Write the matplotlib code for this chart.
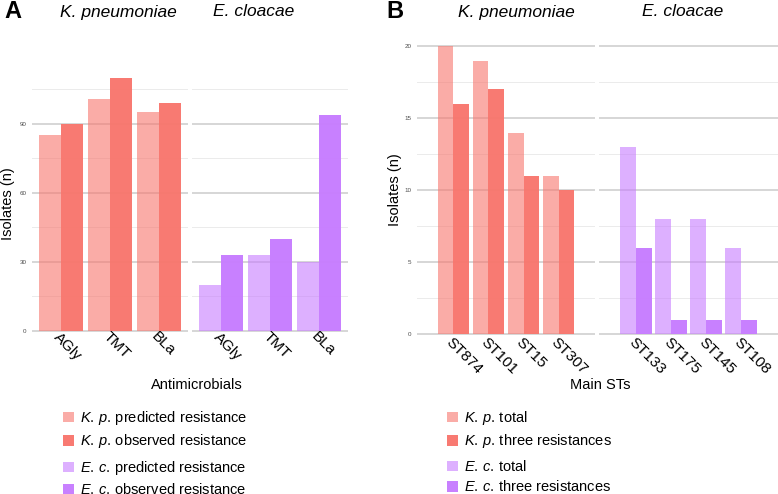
import numpy as np
import matplotlib
matplotlib.use("Agg")
import matplotlib.pyplot as plt
from matplotlib.patches import Patch

plt.rcParams["font.family"] = ["Liberation Sans", "DejaVu Sans"]
plt.rcParams["mathtext.fontset"] = "custom"
plt.rcParams["mathtext.it"] = "Liberation Sans:italic"
plt.rcParams["mathtext.rm"] = "Liberation Sans"

# panel A data
antimicrobials = ["AGly", "TMT", "BLa"]
kp_predicted = [85, 101, 95]
kp_observed = [90, 110, 99]
ec_predicted = [20, 33, 30]
ec_observed = [33, 40, 94]

# panel B data
kp_sts = ["ST874", "ST101", "ST15", "ST307"]
kp_total = [20, 19, 14, 11]
kp_three = [16, 17, 11, 10]
ec_sts = ["ST133", "ST175", "ST145", "ST108"]
ec_total = [13, 8, 8, 6]
ec_three = [6, 1, 1, 1]

red = "#F8766D"
purple = "#C77CFF"
W, H = 778, 494

fig = plt.figure(figsize=(W / 100, H / 100), dpi=100)


def px_axes(x0, y0, x1, y1):
    # rectangle given in pixels from the top-left corner
    return fig.add_axes([x0 / W, 1 - y1 / H, (x1 - x0) / W, (y1 - y0) / H])


def facet(ax, labels, light, dark, color, ylim, major, minor, xmargin, show_y):
    x = np.arange(len(labels))
    ax.set_ylim(*ylim)
    ax.set_xlim(-xmargin, len(labels) - 1 + xmargin)
    for v in major:
        ax.axhline(v, color="#cccccc", lw=1.1, zorder=0)
    for v in minor:
        ax.axhline(v, color="#ebebeb", lw=0.7, zorder=0)
    ax.bar(x - 0.225, light, width=0.45, color=color, alpha=0.6, lw=0, zorder=2)
    ax.bar(x + 0.225, dark, width=0.45, color=color, alpha=0.97, lw=0, zorder=2)
    for s in ax.spines.values():
        s.set_visible(False)
    ax.set_xticks(x)
    ax.set_xticklabels(labels, rotation=-45, ha="left", va="top",
                       rotation_mode="anchor", fontsize=11)
    ax.set_yticks(major)
    if show_y:
        ax.set_yticklabels([str(v) for v in major], fontsize=4.5, color="#4d4d4d")
    else:
        ax.set_yticklabels([])
    ax.tick_params(length=0)
    ax.tick_params(axis="y", pad=4)


# panel A
ya = (-5.5, 115.5)
a1 = px_axes(32, 65.3, 188, 343.6)
a2 = px_axes(192, 65.3, 348, 343.6)
facet(a1, antimicrobials, kp_predicted, kp_observed, red, ya,
      [0, 30, 60, 90], [15, 45, 75, 105], 0.6, True)
facet(a2, antimicrobials, ec_predicted, ec_observed, purple, ya,
      [0, 30, 60, 90], [15, 45, 75, 105], 0.6, False)
for ax in (a1, a2):
    ax.tick_params(axis="x", pad=-10)

# panel B
yb = (-1, 21)
b1 = px_axes(417, 31.9, 595, 348.7)
b2 = px_axes(599, 31.9, 778, 348.7)
facet(b1, kp_sts, kp_total, kp_three, red, yb,
      [0, 5, 10, 15, 20], [2.5, 7.5, 12.5, 17.5], 1.04, True)
facet(b2, ec_sts, ec_total, ec_three, purple, yb,
      [0, 5, 10, 15, 20], [2.5, 7.5, 12.5, 17.5], 1.04, False)
for ax in (b1, b2):
    ax.tick_params(axis="x", pad=-10)

# titles and labels
def ftext(x, y, s, **kw):
    fig.text(x / W, 1 - y / H, s, **kw)

ftext(4, 12, "A", fontsize=17, fontweight="bold", va="center", ha="left")
ftext(386, 12, "B", fontsize=17, fontweight="bold", va="center", ha="left")
ftext(60, 12, "K. pneumoniae", fontsize=12.5, style="italic", va="center", ha="left")
ftext(213, 12, "E. cloacae", fontsize=12.5, style="italic", va="center", ha="left")
ftext(458, 12, "K. pneumoniae", fontsize=12.5, style="italic", va="center", ha="left")
ftext(642, 12, "E. cloacae", fontsize=12.5, style="italic", va="center", ha="left")
ftext(8, 204, "Isolates (n)", fontsize=10.5, rotation=90, va="center", ha="center")
ftext(395, 190, "Isolates (n)", fontsize=10.5, rotation=90, va="center", ha="center")
ftext(197, 385, "Antimicrobials", fontsize=10.5, va="center", ha="center")
ftext(600, 385, "Main STs", fontsize=10.5, va="center", ha="center")


# legends
def legend(x, y, labels, colors, alphas):
    handles = [Patch(facecolor=c, alpha=a, lw=0) for c, a in zip(colors, alphas)]
    fig.legend(handles, labels, loc="upper left", bbox_to_anchor=(x / W, 1 - y / H),
               frameon=False, fontsize=10.5, borderpad=0, borderaxespad=0,
               handlelength=0.75, handleheight=0.75, handletextpad=0.4,
               labelspacing=0.36)

kp = r"$\it{K.\,p.}\,$"
ec = r"$\it{E.\,c.}\,$"
legend(63, 409, [kp + "predicted resistance", kp + "observed resistance"],
       [red, red], [0.6, 0.97])
legend(63, 459, [ec + "predicted resistance", ec + "observed resistance"],
       [purple, purple], [0.6, 0.97])
legend(447, 409, [kp + "total", kp + "three resistances"],
       [red, red], [0.6, 0.97])
legend(447, 459, [ec + "total", ec + "three resistances"],
       [purple, purple], [0.6, 0.97])

fig.savefig("out.png", dpi=100)
